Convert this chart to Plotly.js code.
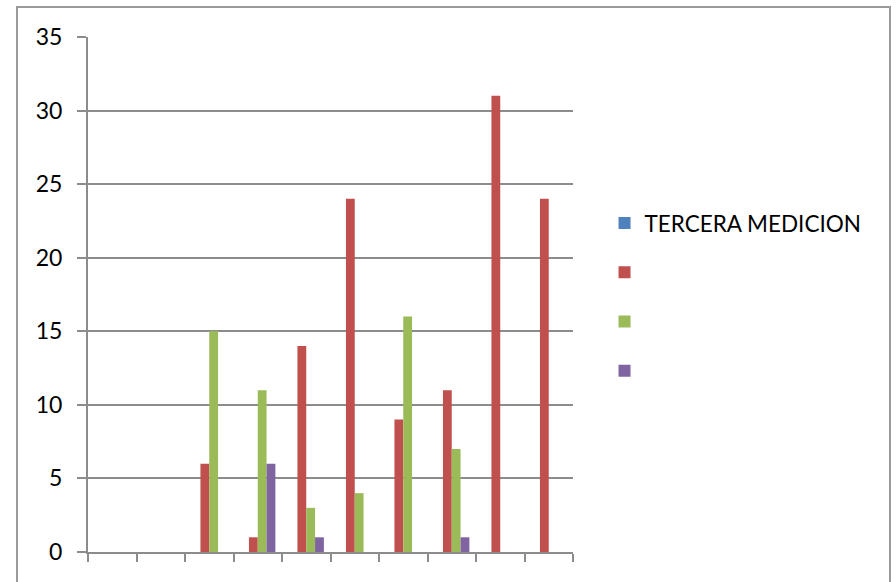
<!DOCTYPE html>
<html>
<head>
<meta charset="utf-8">
<script src="https://cdn.plot.ly/plotly-3.0.1.min.js"></script>
<style>
  html, body { margin: 0; padding: 0; background: #ffffff; }
  #wrap { position: relative; width: 896px; height: 582px; overflow: hidden; }
  #chart { position: absolute; left: 0; top: 0; width: 896px; height: 582px; }
  #frame { position: absolute; left: 16px; top: 6px; width: 871px; height: 620px;
           border: 2px solid #9a9a9a; pointer-events: none; }
</style>
</head>
<body>
<div id="wrap">
  <div id="chart"></div>
  <div id="frame"></div>
</div>
<script>
// Data
const categories = ['1', '2', '3', '4', '5', '6', '7', '8', '9', '10'];
const seriesNames = ['TERCERA MEDICION', ' ', '  ', '   '];
const seriesBlue   = [null, null, null, null, null, null, null, null, null, null];
const seriesRed    = [null, null, 6, 1, 14, 24, 9, 11, 31, 24];
const seriesGreen  = [null, null, 15, 11, 3, 4, 16, 7, null, null];
const seriesPurple = [null, null, null, 6, 1, null, null, 1, null, null];
const yTickValues  = [0, 5, 10, 15, 20, 25, 30, 35];

const colors = ['#4F81BD', '#C0504D', '#9BBB59', '#8064A2'];
const allSeries = [seriesBlue, seriesRed, seriesGreen, seriesPurple];

const traces = allSeries.map((vals, i) => ({
  type: 'bar',
  x: categories,
  y: vals,
  name: seriesNames[i],
  legendgroup: 'g' + i,
  marker: { color: colors[i], line: { width: 0 } },
  hoverinfo: 'skip'
}));

const fontFamily = 'Lato, "Open Sans", "Liberation Sans", sans-serif';

const layout = {
  width: 896,
  height: 582,
  margin: { l: 88, r: 323, t: 37, b: 30, pad: 0 },
  paper_bgcolor: '#ffffff',
  plot_bgcolor: '#ffffff',
  barmode: 'group',
  bargap: 0.273,
  bargroupgap: 0,
  showlegend: true,
  font: { family: fontFamily, size: 22, color: '#000000' },
  xaxis: {
    type: 'category',
    showticklabels: false,
    showgrid: false,
    showline: true,
    linecolor: '#8c8c8c',
    linewidth: 2,
    ticks: 'outside',
    tickson: 'boundaries',
    ticklen: 8,
    tickwidth: 2,
    tickcolor: '#8c8c8c',
    zeroline: false,
    fixedrange: true
  },
  yaxis: {
    range: [0, 35],
    tickvals: yTickValues,
    ticktext: yTickValues.map(String),
    showgrid: true,
    gridcolor: '#8c8c8c',
    gridwidth: 2,
    showline: true,
    linecolor: '#8c8c8c',
    linewidth: 2,
    ticks: 'outside',
    ticklen: 9,
    tickwidth: 2,
    tickcolor: '#8c8c8c',
    ticklabelstandoff: 10,
    zeroline: false,
    tickfont: { family: fontFamily, size: 23, color: '#000000' },
    fixedrange: true
  },
  legend: {
    x: 1.065,
    xanchor: 'left',
    y: 0.68,
    yanchor: 'top',
    tracegroupgap: 17,
    bgcolor: 'rgba(0,0,0,0)',
    borderwidth: 0,
    itemclick: false,
    itemdoubleclick: false,
    font: { family: fontFamily, size: 22.5, color: '#000000' }
  }
};

Plotly.newPlot('chart', traces, layout, { displayModeBar: false, staticPlot: true });
</script>
</body>
</html>
